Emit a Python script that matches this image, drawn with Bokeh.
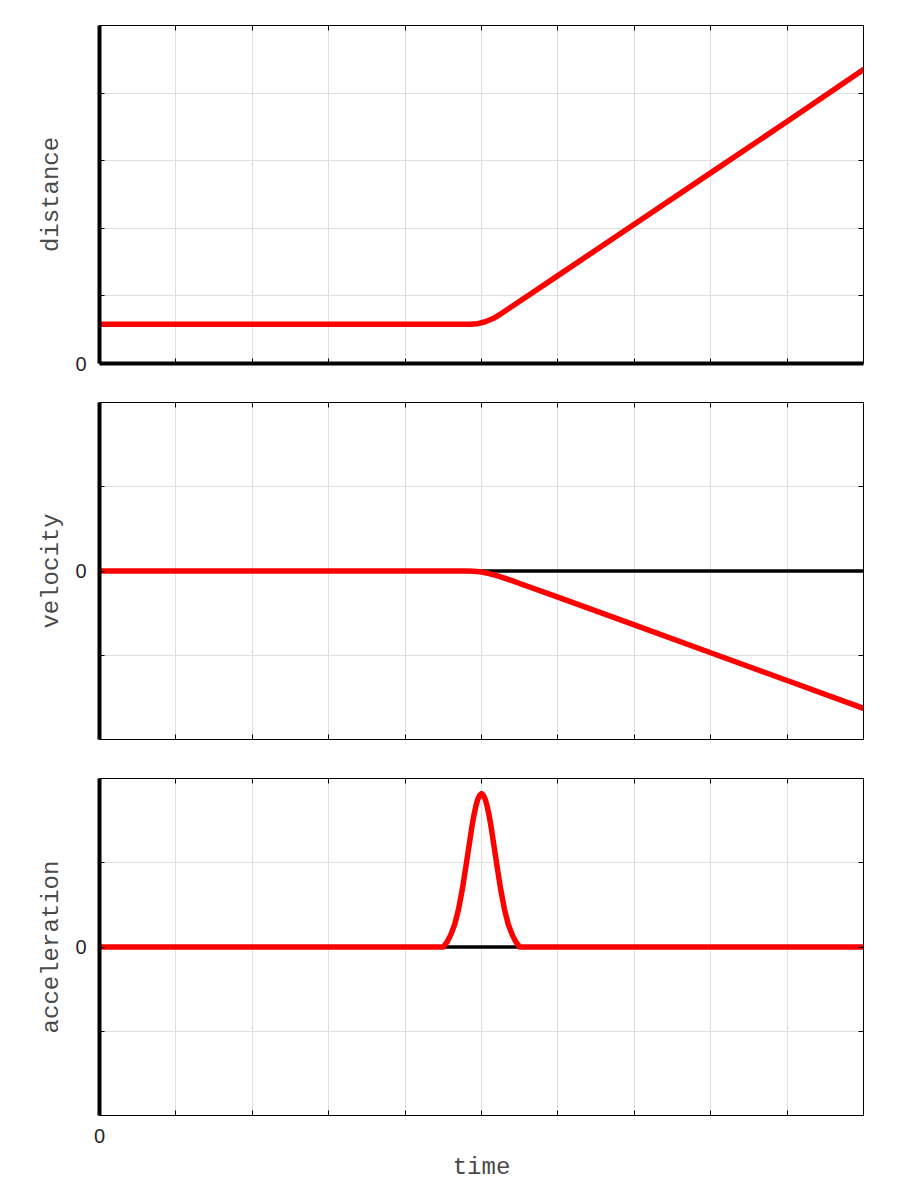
from bokeh.plotting import figure
from bokeh.models import LinearAxis, FixedTicker, Span
from bokeh.layouts import column
from bokeh.embed import file_html
from bokeh.resources import INLINE

# ---- data ----
time_ticks = [0, 1, 2, 3, 4, 5, 6, 7, 8, 9, 10]

time_dist = [0, 4.85, 4.95, 5.05, 5.15, 5.25, 5.5, 6, 7, 8, 9, 10]
distance = [0.58, 0.58, 0.5895, 0.618, 0.6655, 0.732, 0.922, 1.30, 2.06, 2.82, 3.58, 4.35]

time_vel = [0, 4.8, 4.9, 5.0, 5.1, 5.2, 5.3, 5.4, 5.5, 6, 7, 8, 9, 10]
velocity = [0, 0, -0.003, -0.012, -0.03, -0.055, -0.085, -0.115, -0.148, -0.31, -0.64, -0.97, -1.30, -1.63]

time_acc = [0, 4.5, 4.55, 4.6, 4.65, 4.7, 4.75, 4.8, 4.85, 4.875, 4.9, 4.925, 4.95, 4.975, 5.0,
            5.025, 5.05, 5.075, 5.1, 5.125, 5.15, 5.2, 5.25, 5.3, 5.35, 5.4, 5.45, 5.5, 10]
acceleration = [0, 0, 0.06, 0.15, 0.27, 0.45, 0.69, 0.98, 1.28, 1.43, 1.56, 1.667, 1.75, 1.80, 1.82,
                1.80, 1.75, 1.667, 1.56, 1.43, 1.28, 0.98, 0.69, 0.45, 0.27, 0.15, 0.06, 0, 0]

dist_ticks = [0, 1, 2, 3, 4, 5]
vel_ticks = [-2, -1, 0, 1, 2]
acc_ticks = [-2, -1, 0, 1, 2]

TICK_FONT = "Liberation Sans"
LABEL_FONT = "Liberation Mono"
GRID = "#dedede"


def style_axis(ax, ticks, show_zero, line_width=1):
    ax.ticker = FixedTicker(ticks=ticks, minor_ticks=[])
    ax.major_tick_in = 5
    ax.major_tick_out = 0
    ax.minor_tick_in = 0
    ax.minor_tick_out = 0
    ax.major_tick_line_color = "black"
    ax.major_tick_line_width = 1
    ax.axis_line_color = "black"
    ax.axis_line_width = line_width
    ax.major_label_text_font = TICK_FONT
    ax.major_label_text_font_size = "20px"
    ax.major_label_text_color = "#262626"
    if show_zero:
        ax.major_label_overrides = {t: "" for t in ticks if t != 0}
        ax.major_label_standoff = 13
    else:
        ax.major_label_overrides = {t: "" for t in ticks}
        ax.major_label_standoff = 0
    ax.axis_label_text_font = LABEL_FONT
    ax.axis_label_text_font_size = "24px"
    ax.axis_label_text_font_style = "normal"
    ax.axis_label_text_color = "#4a4a4a"


def make_panel(t, y, yrange, yticks, ylabel, fh, top, bottom, x_zero_label, thick_bottom, zero_line):
    p = figure(frame_width=764, frame_height=fh, x_range=(0, 10), y_range=yrange,
               output_backend="svg", toolbar_location=None,
               min_border_left=99, min_border_right=20,
               min_border_top=top, min_border_bottom=bottom)
    p.background_fill_color = "white"
    p.border_fill_color = "white"
    p.outline_line_color = "black"
    p.outline_line_width = 1

    bottom_ax = p.below[0]
    left_ax = p.left[0]
    style_axis(bottom_ax, time_ticks, x_zero_label, 4 if thick_bottom else 1)
    style_axis(left_ax, yticks, True, 4)
    top_ax = LinearAxis()
    style_axis(top_ax, time_ticks, False)
    p.add_layout(top_ax, "above")
    right_ax = LinearAxis()
    style_axis(right_ax, yticks, False)
    p.add_layout(right_ax, "right")

    left_ax.axis_label = ylabel
    left_ax.axis_label_standoff = 7

    for g in (p.xgrid, p.ygrid):
        g.grid_line_color = GRID
        g.grid_line_width = 1
    p.xgrid.ticker = FixedTicker(ticks=time_ticks, minor_ticks=[])
    p.ygrid.ticker = FixedTicker(ticks=yticks, minor_ticks=[])

    if zero_line:
        p.add_layout(Span(location=0, dimension="width", line_color="black",
                          line_width=3.5, level="underlay"))

    p.line(t, y, line_color="#ff0000", line_width=5.5, line_join="round", line_cap="round")
    return p, bottom_ax


p1, _ = make_panel(time_dist, distance, (0, 5), dist_ticks, "distance", 338, 25, 20,
                   False, True, False)
p2, _ = make_panel(time_vel, velocity, (-2, 2), vel_ticks, "velocity", 337, 19, 20,
                   False, False, True)
p3, b3 = make_panel(time_acc, acceleration, (-2, 2), acc_ticks, "acceleration", 337, 19, 75,
                    True, False, True)
b3.axis_label = "time"
b3.axis_label_standoff = 8

layout = column(p1, p2, p3)
open("out.html", "w").write(file_html(layout, INLINE))
